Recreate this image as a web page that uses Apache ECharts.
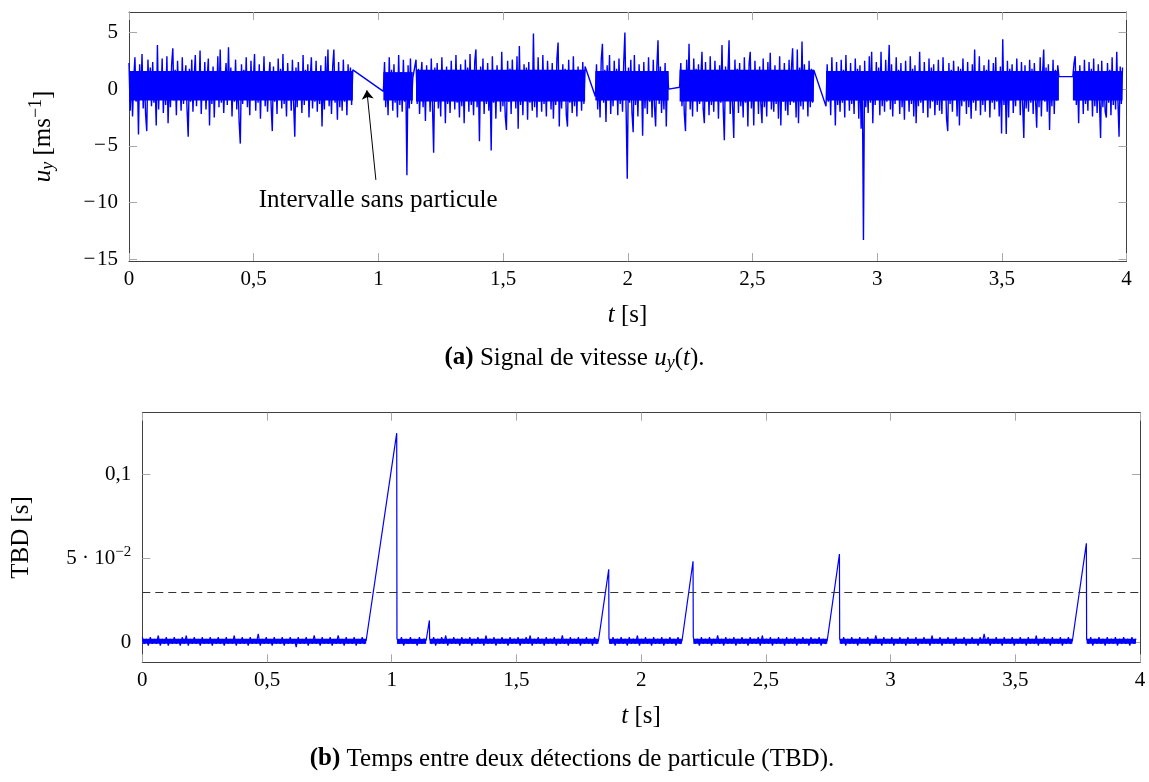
<!DOCTYPE html>
<html><head><meta charset="utf-8">
<script src="https://cdn.jsdelivr.net/npm/echarts@6/dist/echarts.min.js"></script>
<style>html,body{margin:0;padding:0;background:#fff}#c{width:1149px;height:782px}</style>
</head><body><div id="c"></div>
<script>
// ---- Data ----
// time windows [s] in which particles were detected (gaps between them have no particle)
const segStart = [0, 1.020, 1.151, 1.870, 2.208, 2.795, 3.785];
const segEnd   = [0.8975, 1.138, 1.829, 2.164, 2.746, 3.729, 3.984];

// dense (solid-looking) core of the u_y trace in each window [m/s]
const uyCoreLo = [-1.0, -1.0, -1.1, -1.0, -1.1, -1.0, -1.0];
const uyCoreHi = [1.6, 1.5, 1.7, 1.6, 1.7, 1.6, 1.6];

// u_y [m/s] samples in each window (spread evenly over the window)
const uyA = [2.3,-1.9,1.4,-2.4,0.9,2.8,-1.1,1.6,-4.0,2.2,
  -0.8,3.1,-1.7,1.2,-2.2,-3.7,2.6,-0.6,1.9,-1.5,
  2.4,-1.2,0.7,-3.2,3.9,-1.8,1.5,-0.9,2.7,-2.1,
  1.1,-1.4,2.9,-3.0,0.8,-1.6,2.2,3.6,-1.0,1.7,
  -2.3,2.5,-0.7,1.3,-1.9,2.8,-1.3,0.6,2.1,-1.7,
  -4.2,1.8,-1.1,2.6,-2.0,1.0,3.0,-1.5,1.4,-0.8,
  3.4,-2.2,1.2,-1.0,2.4,-1.8,0.9,2.7,-3.2,1.5,
  -1.3,2.0,-2.5,1.1,-0.9,2.9,-1.6,3.5,-1.2,1.6,
  -2.1,0.8,2.3,-1.4,3.7,-0.7,1.9,-2.4,1.3,-1.1,
  2.6,-1.8,1.0,-2.9,-4.8,2.2,-1.3,1.7,-0.9,2.8,
  -1.6,1.2,-2.3,2.5,-1.0,0.7,3.1,-1.9,1.4,-1.2,
  2.2,-2.6,1.1,-0.8,2.9,-1.5,1.6,-2.0,0.9,2.4,
  -1.4,-3.7,2.0,-1.1,1.3,-2.2,2.7,-0.9,1.8,-1.7,
  3.1,-1.3,0.8,-2.4,2.3,-1.0,1.5,-1.9,2.6,-1.2,
  -4.2,1.9,-1.6,2.4,-0.8,1.1,-2.1,3.0,-1.4,1.7,
  -1.0,2.2,-2.5,0.9,2.8,-1.7,1.3,-1.1,2.5,-2.0,
  1.6,-1.3,2.1,-3.3,1.0,-1.8,2.9,-0.9,3.5,-1.5,
  1.4,-2.2,2.0,3.5,-1.2,0.8,-2.7,2.4,-1.6,1.2,
  -1.9,2.6,-1.1,1.5,-2.3,2.2,-0.8,1.9,-1.4,1.7];
const uyB = [-0.2,2.4,-1.6,1.2,-2.3,2.8,-0.9,1.7,-1.9,2.2,
  -1.2,0.8,-2.5,3.0,-1.4,1.5,-2.0,2.6,-1.1,1.3,
  -7.6,2.1,-1.7,2.7,-1.3,1.0];
const uyC = [2.6,-1.3,1.8,-2.2,0.9,2.4,-1.6,1.3,-2.8,2.1,
  -0.9,1.5,-2.0,2.7,-1.4,-5.6,1.9,-1.1,2.3,-1.7,
  1.0,-2.4,2.8,-0.8,1.6,-3.0,2.0,-1.3,1.2,-2.1,
  2.5,-1.0,1.7,-1.8,3.0,-1.2,0.8,-2.5,2.2,-1.5,
  1.4,-3.0,2.6,-0.9,1.9,-2.0,3.1,-1.4,1.1,-2.3,
  2.4,3.5,-1.6,1.3,-4.6,2.0,-1.0,2.7,-2.2,1.5,
  -1.3,2.3,-1.9,0.9,-5.4,2.9,-1.2,1.6,-2.6,2.1,
  -0.8,1.4,-2.0,3.3,-1.5,1.0,-2.4,-3.6,2.5,-1.1,
  1.8,-2.2,2.6,-0.9,1.2,-1.7,2.9,-3.5,3.8,-1.4,
  1.5,-2.3,2.2,-1.0,1.9,-2.7,2.4,-1.2,0.8,-1.9,
  4.9,-1.6,1.7,-2.5,2.8,-1.1,1.3,-2.0,3.0,-1.3,
  1.0,-2.4,2.5,-0.9,1.6,-1.8,2.3,-2.6,1.2,-1.4,
  2.7,4.1,-3.3,1.4,-1.7,2.2,-1.0,1.8,-2.3,-3.3,
  2.6,-1.2,1.1,-2.1,2.9,-1.5,1.5,-2.4,2.0,-0.9,
  1.7,-1.9,2.4,-1.3,2.0];
const uyD = [-0.65,2.2,-1.8,1.3,-2.5,2.6,4.0,-1.2,1.7,-2.9,
  2.1,-1.0,3.0,-2.2,1.4,-1.5,2.5,-0.9,1.8,-2.3,
  2.7,-1.3,1.1,-2.0,2.3,5.0,-1.6,-7.9,1.9,-1.2,
  2.6,-2.1,-3.8,3.0,-1.4,1.5,-2.4,2.2,-1.0,1.2,
  -4.1,2.4,-1.7,1.6,-2.2,2.8,-1.1,1.3,-2.5,2.6,
  -1.5,-3.3,1.9,4.3,-1.3,2.0,-2.1,1.4,-1.8,2.3,
  -3.3,1.6,0.0];
const uyE = [0.17,2.3,-1.5,1.1,-2.2,-3.7,2.6,-1.0,4.0,-1.8,
  1.4,-2.4,2.7,-0.9,1.8,-2.0,2.2,-1.3,1.0,3.3,
  -1.7,-3.0,2.4,-1.1,1.6,-2.3,2.9,-1.4,1.2,-2.0,
  2.5,-0.8,1.7,-2.6,2.1,-1.2,3.9,-1.6,-4.5,2.0,
  -1.0,1.3,4.3,-2.2,1.5,-1.4,-4.3,2.6,-0.9,1.8,
  -2.1,2.3,-1.5,1.0,-2.5,2.8,-1.2,1.4,-3.3,2.2,
  3.3,-1.7,1.2,-3.2,2.5,-1.0,1.7,-2.2,2.0,-1.3,
  -3.0,2.7,-1.6,1.1,-2.4,2.4,-0.9,3.2,-1.8,1.5,
  -2.0,2.1,-1.3,1.3,-2.6,2.9,-3.2,1.6,-1.1,2.3,
  -1.9,1.0,-2.3,2.6,-1.4,1.8,3.6,-1.2,1.4,-2.5,
  3.5,-3.0,1.9,-1.5,4.2,-1.8,2.2,-1.0,1.3,-2.4,
  2.5,-1.6,1.8,-1.2,1.7];
const uyF = [-1.5,2.2,-1.1,1.6,-2.3,2.8,-0.9,1.3,-3.2,2.4,
  -1.4,1.0,-2.0,2.6,-1.2,1.7,-2.5,3.0,-0.8,1.4,
  -1.9,2.3,-1.3,1.2,-2.2,2.7,-1.0,1.8,-2.6,2.1,
  -3.5,1.5,-13.3,2.5,-1.6,1.1,-2.1,2.9,-1.2,3.3,
  -3.0,1.6,-1.4,2.4,-0.9,1.9,-2.3,3.3,-1.5,1.3,
  -2.0,2.6,-1.1,1.0,3.9,-1.8,2.2,-2.4,1.5,-1.3,
  2.8,-0.9,1.7,-2.2,2.3,-1.6,1.2,-2.7,2.5,-1.0,
  1.4,-2.0,2.9,-1.3,1.8,-2.4,2.1,-3.0,1.1,-1.5,
  3.3,-1.2,1.6,-2.1,2.4,-0.8,1.3,-2.5,2.7,-1.7,
  1.9,-1.1,2.2,-2.3,1.0,-1.4,2.6,-1.9,1.5,-2.2,
  2.8,-1.0,1.4,-2.6,-3.7,2.3,-1.3,1.7,-2.0,2.5,
  -0.9,1.2,-2.4,2.0,-3.2,1.8,-1.5,2.7,-1.1,1.3,
  -2.2,2.4,-1.6,1.1,-2.6,2.2,-1.2,3.5,-1.9,1.6,
  -1.0,2.9,-2.3,1.4,-1.4,2.1,-2.0,1.7,-0.8,2.6,
  -2.5,1.3,-1.2,2.3,-1.8,2.8,-1.1,1.5,-2.4,2.0,
  -3.9,4.4,-1.4,1.2,-3.95,2.5,-2.5,1.8,-1.0,2.2,
  -2.1,1.4,-1.5,2.7,-0.9,1.6,-2.3,2.4,-1.3,-4.3,
  2.1,-1.7,1.1,-2.0,2.6,-1.2,1.8,-2.2,2.3,-0.9,
  -3.4,1.5,-1.6,2.8,-2.4,1.3,3.5,-1.1,1.9,-2.0,
  2.2,-3.6,1.4,-1.5,2.6,-2.2,1.7,-1.0,2.1,1.1];
const uyG = [1.1,2.3,2.9,-1.4,1.2,-3.0,2.1,-1.0,1.6,-2.2,
  2.6,-1.3,1.4,-1.9,2.4,-0.9,1.8,-2.4,2.7,-1.5,
  1.2,-2.1,2.2,-1.1,-4.3,2.5,-1.6,1.0,-2.0,-2.5,
  2.3,-1.2,1.7,-2.3,2.8,-1.4,1.3,-1.8,3.3,-1.0,
  -4.2,2.0,-1.3,1.9];
const uySegments = [uyA, uyB, uyC, uyD, uyE, uyF, uyG];

// TBD [s]: value at the first detection after each gap (= gap length)
const tbdPeak = [0.1248, 0.013, 0.0435, 0.0483, 0.0526, 0.059];
// dense core of the TBD baseline [ms]
const tbdCoreLo_ms = [-1, -1, -1, -1, -1, -1, -1];
const tbdCoreHi_ms = [2, 2, 2, 2, 2, 2, 2];
// TBD baseline inside the windows, in milliseconds
const tbdA_ms = [3,-1,2,-2,3,-1,2,-1,4,-2,2,-1,3,-2,2,-1,3,-1,2,-2,
  3,-1,4,-2,2,-1,3,-1,2,-2,3,-1,2,-1,3,-2,2,-1,3,-1,
  2,-2,3,-1,2,-1,4,-2,2,-1,3,-1,2,-2,3,-1,2,-1,5,-2,
  2,-1,3,-1,2,-2,3,-1,2,-1,3,-2,2,-1,3,-1,2,-3,3,-1,
  2,-1,3,-2,2,-1,4,-1,2,-2,3,-1,2,-1,3,-2,2,-1,4,-1,
  2,-2,3,-1,2,-1,3,-2,2,-1,3,-1,1];
const tbdB_ms = [2,-1,3,-2,2,-1,3,-1,2,-2,3,-1,2,1];
const tbdC_ms = [2,-1,3,-2,2,-1,3,-1,4,-2,
  2,-1,3,-1,2,-2,3,-1,2,-1,
  3,-2,2,-1,3,-1,2,-2,4,-1,
  2,-1,3,-2,2,-1,3,-1,2,-2,
  3,-1,2,-1,3,-2,2,-1,3,-1,
  4,-2,2,-1,3,-1,2,-2,3,-1,
  2,-1,3,-2,2,-1,4,-1,2,-2,
  3,-1,2,-1,3,-2,2,-1,3,-1,
  2,-2,3,-1,1];
const tbdD_ms = [2,-1,3,-2,2,-1,3,-1,2,-2,
  3,-1,2,-1,4,-2,2,-1,3,-1,
  2,-2,3,-1,2,-1,3,-2,2,-1,
  3,-1,2,-2,3,-1,1];
const tbdE_ms = [3,-1,2,-2,3,-1,2,-1,3,-2,
  2,-1,4,-1,2,-2,3,-1,2,-1,
  3,-2,2,-1,3,-1,2,-2,3,-1,
  2,-1,3,-2,4,-1,2,-1,3,-2,
  2,-1,3,-1,2,-2,3,-1,2,-1,
  3,-2,2,-1,3,-1,2,-2,3,-1,
  2,-1,3,-2,2,-1,1];
const tbdF_ms = [2,-1,3,-2,2,-1,3,-1,2,-2,
  3,-1,2,-1,3,-2,2,-1,4,-1,
  2,-2,3,-1,2,-1,3,-2,2,-1,
  3,-1,2,-2,3,-1,2,-1,3,-2,
  2,-1,3,-1,2,-2,4,-1,2,-1,
  3,-2,2,-1,3,-1,2,-2,3,-1,
  2,-1,3,-2,2,-1,3,-1,2,-2,
  3,-1,5,-1,3,-2,2,-1,3,-1,
  2,-2,3,-1,2,-1,3,-2,2,-1,
  3,-1,2,-2,3,-1,2,-1,4,-2,
  2,-1,3,-1,2,-2,3,-1,2,-1,
  3,-2,2,-1,3,-1,1];
const tbdG_ms = [2,-1,3,-2,2,-1,3,-1,2,-2,
  3,-1,2,-1,3,-2,2,-1,3,-1,
  2,-2,3,-1,2];
const tbdSegments_ms = [tbdA_ms, tbdB_ms, tbdC_ms, tbdD_ms, tbdE_ms, tbdF_ms, tbdG_ms];
const tbdThreshold = 0.03;

// annotation (data coordinates of the top plot)
const noteText = 'Intervalle sans particule';
const noteArrowFrom = [0.990, -8.0];
const noteArrowTo = [0.9537, -0.1];
const notePos = [0.999, -9.8];

// ticks
const uyTicks = [-15, -10, -5, 0, 5];
const tbdTicks = [0, 0.05, 0.1];

// ---- Build series ----
const tbdLag = 0.001; // first baseline sample right after a TBD peak
function spread(start, end, vals) {
  const n = vals.length;
  return vals.map((v, i) => [start + (end - start) * (n === 1 ? 0 : i / (n - 1)), v]);
}
const uyData = [];
uySegments.forEach((vals, k) => { uyData.push(...spread(segStart[k], segEnd[k], vals)); });
const uyCore = segStart.map((s, k) => [s, segEnd[k], uyCoreLo[k], uyCoreHi[k]]);
const tbdData = [];
tbdSegments_ms.forEach((vals, k) => {
  let s = segStart[k];
  if (k > 0) { tbdData.push([segStart[k], tbdPeak[k - 1]]); s = segStart[k] + tbdLag; }
  spread(s, segEnd[k], vals).forEach(p => tbdData.push([p[0], p[1] / 1000]));
});
const tbdCore = segStart.map((s, k) => [k > 0 ? s + tbdLag : s, segEnd[k], tbdCoreLo_ms[k] / 1000, tbdCoreHi_ms[k] / 1000]);

const FF = '"Liberation Serif", "Times New Roman", serif';
const TICK_FS = 21, TEXT_FS = 25;
const BLUE = '#0000ff';
const frameColor = '#404040', tickColor = '#a8a8a8';
const xFmt = v => String(v).replace('.', ',');
const uyFmt = v => v < 0 ? '\u2212\u200a' + Math.abs(v) : String(v);
const tbdFmt = v => v === 0 ? '0' : (Math.abs(v - 0.05) < 1e-9 ? '5 \u00b7 10{sup|\u22122}' : String(v).replace('.', ','));

function xAx(grid, pos) {
  return {
    gridIndex: grid, type: 'value', min: 0, max: 4, interval: 0.5, position: pos,
    axisLine: { show: true, onZero: false, lineStyle: { color: frameColor, width: 1 } },
    axisTick: { show: true, inside: true, length: 8, lineStyle: { color: tickColor } },
    axisLabel: { show: pos === 'bottom', formatter: xFmt, fontFamily: FF, fontSize: TICK_FS, color: '#000', margin: 8 },
    splitLine: { show: false }
  };
}
function yAx(grid, pos, min, max, ticks, fmt) {
  return {
    gridIndex: grid, type: 'value', min: min, max: max, position: pos,
    axisLine: { show: true, onZero: false, lineStyle: { color: frameColor, width: 1 } },
    axisTick: { show: true, inside: true, length: 8, customValues: ticks, lineStyle: { color: tickColor } },
    axisLabel: { show: pos === 'left', customValues: ticks, formatter: fmt, fontFamily: FF, fontSize: TICK_FS, color: '#000', margin: 11,
      rich: { sup: { fontFamily: FF, fontSize: 15, color: '#000', padding: [0, 0, 12, 0] } } },
    splitLine: { show: false }
  };
}
function bandItem(params, api) {
  const p0 = api.coord([api.value(0), api.value(3)]);
  const p1 = api.coord([api.value(1), api.value(2)]);
  return { type: 'rect', shape: { x: p0[0], y: p0[1], width: p1[0] - p0[0], height: p1[1] - p0[1] },
    style: { fill: BLUE } };
}

const richText = {
  i: { fontFamily: FF, fontSize: TEXT_FS, fontStyle: 'italic', fill: '#000' },
  b: { fontFamily: FF, fontSize: TEXT_FS, fontWeight: 'bold', fill: '#000' },
  sub: { fontFamily: FF, fontSize: 18, fontStyle: 'italic', fill: '#000', padding: [10, 0, 0, 0] },
  sup: { fontFamily: FF, fontSize: 18, fill: '#000', padding: [0, 0, 14, 0] }
};
function txt(x, y, text, rot) {
  return { type: 'text', x: x, y: y, rotation: rot || 0, silent: true,
    style: { text: text, rich: richText, align: 'center', verticalAlign: 'middle', fill: '#000',
      font: TEXT_FS + 'px ' + FF } };
}

const chart = echarts.init(document.getElementById('c'), null, { renderer: 'canvas' });
chart.setOption({
  animation: false,
  backgroundColor: '#fff',
  grid: [
    { left: 129, top: 12, width: 997.5, height: 249 },
    { left: 142.3, top: 412.7, width: 997.7, height: 249.6 }
  ],
  xAxis: [xAx(0, 'bottom'), xAx(0, 'top'), xAx(1, 'bottom'), xAx(1, 'top')],
  yAxis: [
    yAx(0, 'left', -15.15, 6.8, uyTicks, uyFmt), yAx(0, 'right', -15.15, 6.8, uyTicks, uyFmt),
    yAx(1, 'left', -0.012, 0.137, tbdTicks, tbdFmt), yAx(1, 'right', -0.012, 0.137, tbdTicks, tbdFmt)
  ],
  series: [
    { type: 'custom', xAxisIndex: 0, yAxisIndex: 0, data: uyCore, renderItem: bandItem, silent: true,
      encode: { x: [0, 1], y: [2, 3] } },
    { type: 'line', xAxisIndex: 0, yAxisIndex: 0, data: uyData, showSymbol: false, symbol: 'none',
      lineStyle: { color: BLUE, width: 1.4 }, emphasis: { disabled: true },
      markLine: { silent: true, symbol: ['none', 'arrow'], symbolSize: 9, label: { show: false },
        lineStyle: { color: '#000', width: 1, type: 'solid' }, emphasis: { disabled: true },
        data: [[{ coord: noteArrowFrom }, { coord: noteArrowTo }]] },
      markPoint: { silent: true, data: [{ coord: notePos, symbol: 'rect', symbolSize: 1, itemStyle: { color: 'rgba(0,0,0,0)' },
        label: { show: true, position: 'inside', formatter: noteText, color: '#000', fontFamily: FF, fontSize: TEXT_FS } }] }
    },
    { type: 'custom', xAxisIndex: 2, yAxisIndex: 2, data: tbdCore, renderItem: bandItem, silent: true,
      encode: { x: [0, 1], y: [2, 3] } },
    { type: 'line', xAxisIndex: 2, yAxisIndex: 2, data: tbdData, showSymbol: false, symbol: 'none',
      lineStyle: { color: BLUE, width: 1.2 }, emphasis: { disabled: true },
      markLine: { silent: true, symbol: ['none', 'none'], label: { show: false },
        lineStyle: { color: '#333', width: 1, type: [8, 5] }, emphasis: { disabled: true },
        data: [{ yAxis: tbdThreshold }] }
    }
  ],
  graphic: [
    txt(43, 136.5, '{i|u}{sub|y} [ms{sup|\u22121}]', Math.PI / 2),
    txt(21, 537.5, 'TBD [s]', Math.PI / 2),
    txt(627.5, 315, '{i|t} [s]'),
    txt(641, 716, '{i|t} [s]'),
    txt(574.5, 358, '{b|(a)} Signal de vitesse {i|u}{sub|y}({i|t}).'),
    txt(572, 759, '{b|(b)} Temps entre deux d\u00e9tections de particule (TBD).')
  ]
});
</script>
</body></html>
